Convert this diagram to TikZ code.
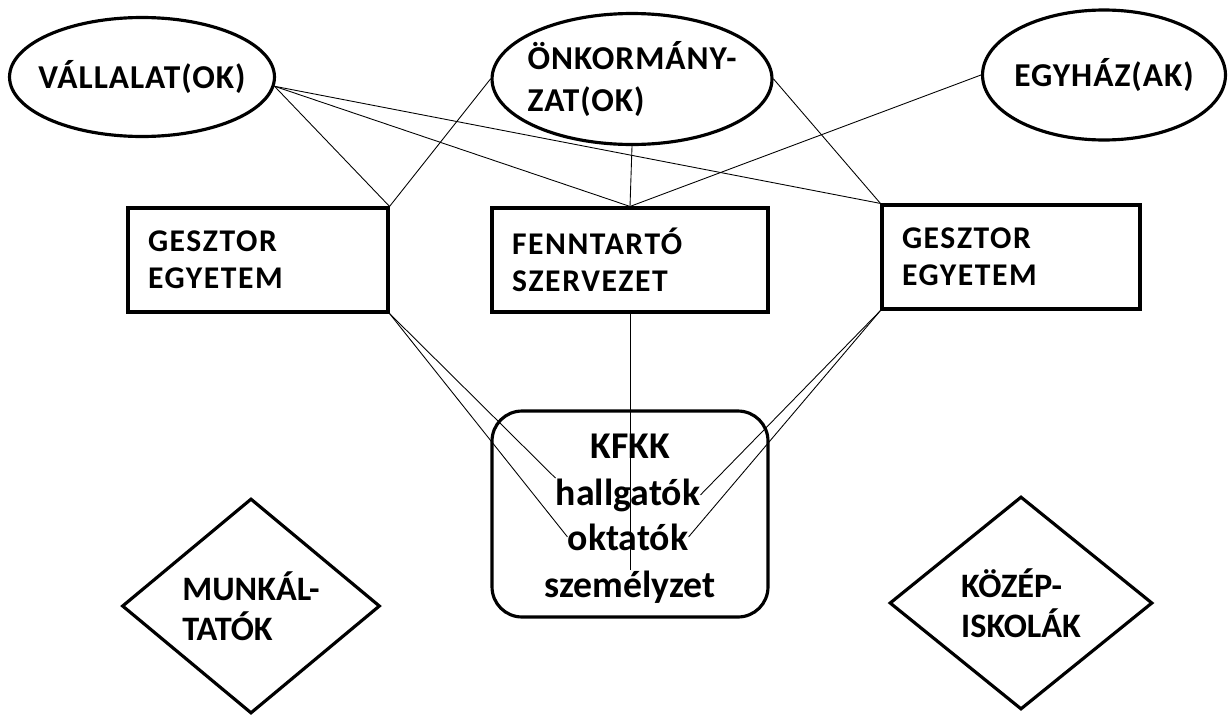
\documentclass[tikz,border=0pt]{standalone}
\usepackage{fontspec}
\setmainfont{Carlito}
\newfontfamily\partyfont{Carlito}[LetterSpace=3]
\newfontfamily\boxfont{Carlito}[LetterSpace=5]
\usetikzlibrary{shapes.geometric}

\begin{document}
\begin{tikzpicture}[
    x=0.02cm, y=-0.02cm,
    party/.style={draw, ellipse, line width=1.8pt, inner ysep=0pt, inner xsep=-0.8cm, align=left, font=\partyfont\fontsize{19}{23.5}\selectfont\bfseries},
    box/.style={draw, line width=1.8pt, align=left, inner xsep=0.4cm, minimum height=2.08cm, font=\boxfont\fontsize{18}{21}\selectfont\bfseries},
    partner/.style={draw, diamond, line width=1.8pt, inner sep=0pt, align=left, font=\fontsize{19.5}{22.5}\selectfont\bfseries},
    member/.style={anchor=base, inner sep=0pt, font=\fontsize{21.5}{26}\selectfont\bfseries},
    link/.style={line width=0.5pt}
]
\useasboundingbox (0,0) rectangle (1229,717);

\node[party, minimum width=5.3cm, minimum height=2.38cm] (vallalat) at (142,77) {VÁLLALAT(OK)};
\node[party, minimum width=5.6cm, minimum height=2.62cm] (onkorm) at (632,79) {ÖNKORMÁNY-\\ZAT(OK)};
\node[party, minimum width=4.86cm, minimum height=2.6cm] (egyhaz) at (1104,75) {EGYHÁZ(AK)};

\node[box, text width=4.4cm] (gesztorL) at (258,260) {GESZTOR\\EGYETEM};
\node[box, text width=4.72cm] (fenntarto) at (630,260) {FENNTARTÓ\\SZERVEZET};
\node[box, text width=4.36cm] (gesztorR) at (1011,257) {GESZTOR\\EGYETEM};

\node[draw, rounded corners=0.6cm, line width=1.8pt, minimum width=5.52cm, minimum height=4.12cm] (kfkk) at (630,514) {};
\node[member] (kfkktext) at (630,458) {KFKK};
\node[member] (hallgatok) at (628,505) {hallgatók};
\node[member] (oktatok) at (628,550) {oktatók};
\node[member] (szemelyzet) at (630,597) {személyzet};

\node[partner, minimum width=5.16cm, minimum height=4.3cm] (munkaltatok) at (251,606) {MUNKÁL-\\TATÓK};
\node[partner, minimum width=5.26cm, minimum height=4.26cm] (kozepiskolak) at (1021,603) {KÖZÉP-\\ISKOLÁK};

\draw[link] (vallalat.-4) -- (gesztorL.north east);
\draw[link] (vallalat.-4) -- (fenntarto.north);
\draw[link] (vallalat.-4) -- (gesztorR.north west);
\draw[link] (onkorm.west) -- (gesztorL.north east);
\draw[link] (onkorm.south) -- (fenntarto.north);
\draw[link] (onkorm.east) -- (gesztorR.north west);
\draw[link] (egyhaz.west) -- (fenntarto.north);
\draw[link] (fenntarto.south) -- (szemelyzet.north);
\draw[link] (gesztorL.south east) -- (hallgatok.north west);
\draw[link] (gesztorL.south east) -- (oktatok.west);
\draw[link] (gesztorR.south west) -- (hallgatok.east);
\draw[link] (gesztorR.south west) -- (oktatok.east);
\end{tikzpicture}
\end{document}
